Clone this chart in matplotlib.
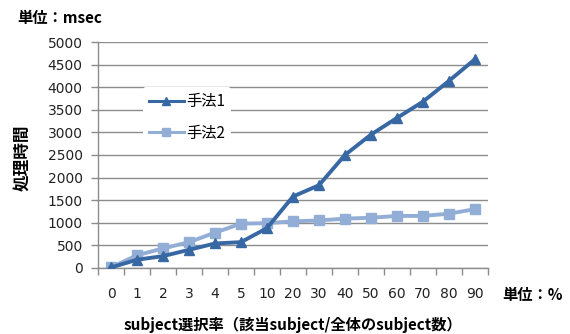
import numpy as np
import matplotlib
matplotlib.use('Agg')
from matplotlib import pyplot as plt

plt.rcParams['font.family'] = ['Noto Sans CJK JP', 'DejaVu Sans']

# 選択率 (%) と処理時間 (msec)
rates = ['0', '1', '2', '3', '4', '5', '10', '20', '30', '40', '50', '60', '70', '80', '90']
method1 = [10, 180, 260, 400, 540, 570, 880, 1580, 1830, 2500, 2950, 3320, 3680, 4140, 4620]
method2 = [10, 280, 430, 570, 780, 980, 990, 1030, 1050, 1090, 1110, 1150, 1150, 1200, 1300]

color1 = '#3868A4'
color2 = '#93AED6'
gray = '#8C8C8C'

fig = plt.figure(figsize=(5.7, 3.34), dpi=100)
ax = fig.add_axes([0.172, 0.198, 0.684, 0.676])

x = np.arange(len(rates))
ax.plot(x, method1, color=color1, lw=2.8, marker='^', ms=7.5, label='手法1', zorder=3)
ax.plot(x, method2, color=color2, lw=2.8, marker='s', ms=7, label='手法2', zorder=2)

ax.set_xlim(-0.5, len(rates) - 0.5)
ax.set_ylim(0, 5000)
ax.set_yticks(np.arange(0, 5001, 500))
ax.yaxis.grid(True, color=gray, lw=1)
ax.set_axisbelow(True)

ax.set_xticks(x)
ax.set_xticklabels(rates)
ax.set_xticks(np.arange(-0.5, len(rates), 1), minor=True)
ax.tick_params(axis='x', which='major', length=0, pad=14)
ax.tick_params(axis='x', which='minor', length=5, color=gray, width=1)
ax.tick_params(axis='y', length=5, color=gray, width=1, pad=6)
for lab in ax.get_xticklabels() + ax.get_yticklabels():
    lab.set_family('DejaVu Sans')
    lab.set_fontsize(10)
    lab.set_color('#222222')

for side in ['top', 'right']:
    ax.spines[side].set_visible(False)
for side in ['left', 'bottom']:
    ax.spines[side].set_color(gray)
    ax.spines[side].set_linewidth(1)

ax.set_ylabel('処理時間', fontsize=12, fontweight='bold')
ax.yaxis.set_label_coords(-0.172, 0.487)
ax.set_xlabel('subject選択率（該当subject/全体のsubject数）', fontsize=11,
              fontweight='bold')
ax.xaxis.set_label_coords(0.499, -0.215)

fig.text(0.03, 0.945, '単位：msec', fontsize=11, fontweight='bold', va='center')
fig.text(0.882, 0.117, '単位：%', fontsize=11, fontweight='bold', va='center')

leg = ax.legend(loc='upper left', bbox_to_anchor=(0.095, 0.835), frameon=True,
                fontsize=11, handlelength=2.3, handletextpad=0.15,
                borderpad=0.4, labelspacing=0.95)
leg.get_frame().set_edgecolor('none')
leg.get_frame().set_facecolor('white')
leg.get_frame().set_alpha(1)
for line in leg.get_lines():
    line.set_linewidth(2.2)
    line.set_markersize(5.5)

fig.savefig('out.png', dpi=100)
